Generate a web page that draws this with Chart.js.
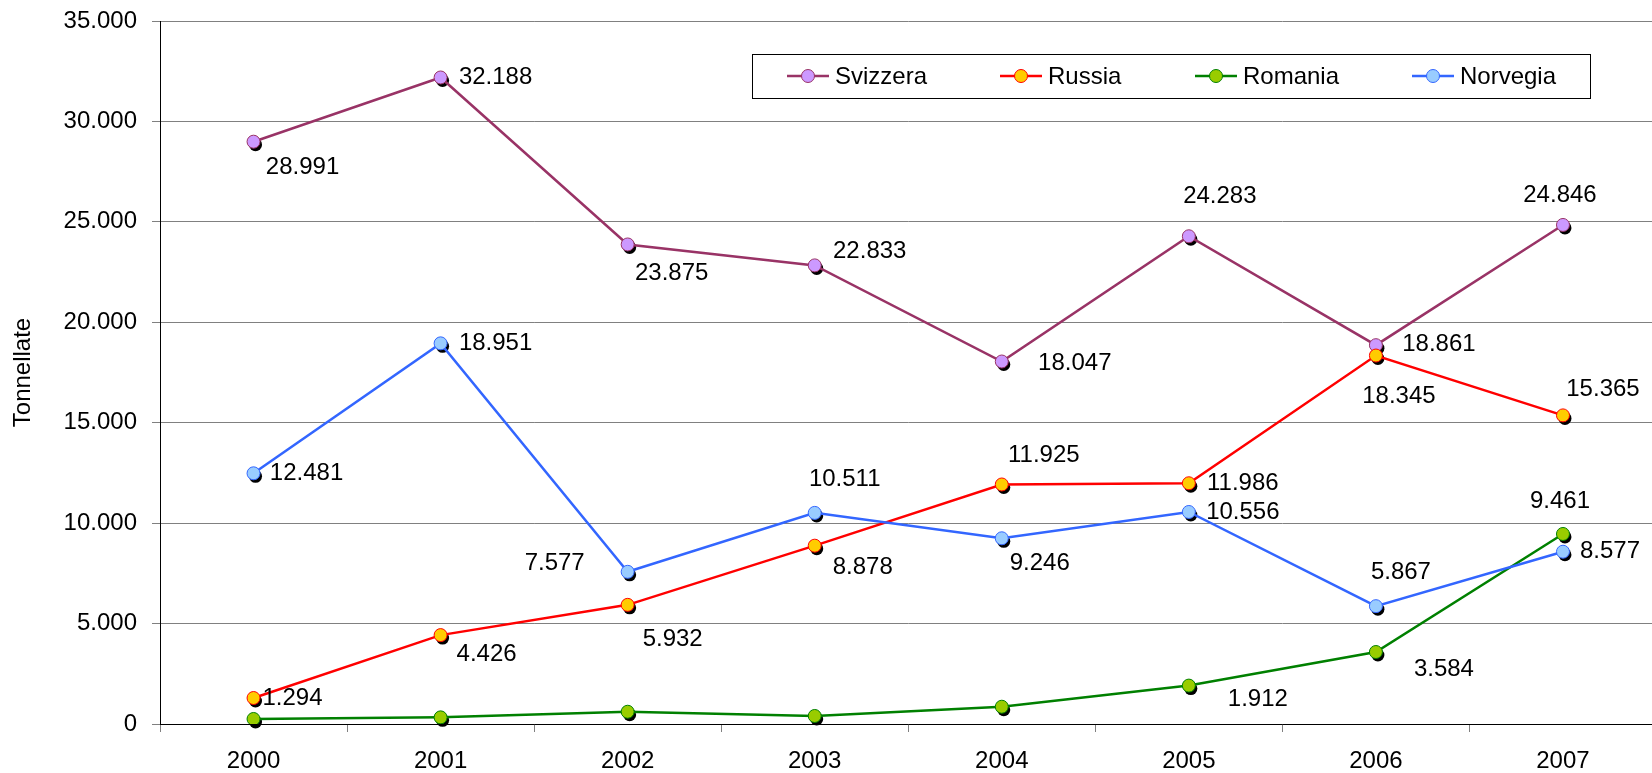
<!DOCTYPE html>
<html>
<head>
<meta charset="utf-8">
<script src="https://cdn.jsdelivr.net/npm/chart.js@4/dist/chart.umd.min.js"></script>
<style>
  html, body { margin: 0; padding: 0; background: #ffffff; overflow: hidden; }
  #wrap { width: 1652px; height: 773px; position: relative; overflow: hidden; }
</style>
</head>
<body>
<div id="wrap"><canvas id="c" width="1664" height="773"></canvas></div>
<script>
// ---- data ----
const years = ['2000', '2001', '2002', '2003', '2004', '2005', '2006', '2007'];
const svizzera = [28991, 32188, 23875, 22833, 18047, 24283, 18861, 24846];
const russia   = [1294, 4426, 5932, 8878, 11925, 11986, 18345, 15365];
const romania  = [250, 330, 610, 400, 860, 1912, 3584, 9461];
const norvegia = [12481, 18951, 7577, 10511, 9246, 10556, 5867, 8577];
const seriesNames = ['Svizzera', 'Russia', 'Romania', 'Norvegia'];
const yTicks = [0, 5000, 10000, 15000, 20000, 25000, 30000, 35000];
const yTitle = 'Tonnellate';

// ---- label placement (offset of label centre from its point, px); null = no label ----
const labelOffsets = [
  [[49,26],[55,0],[44,29],[55,-14],[73,2],[31,-40],[63,-1],[-3,-30]],
  [[39,0],[46,19],[45,35],[48,22],[42,-29],[54,0],[23,41],[40,-26]],
  [null,null,null,null,null,[69,14],[68,17],[-3,-33]],
  [[53,0],[55,0],[-73,-8],[30,-34],[38,25],[54,0],[25,-34],[47,0]]
];
const legendItemX = [787, 1000, 1195, 1412];

// ---- styles ----
const lineColors = ['#993366', '#FF0000', '#008000', '#3366FF'];
const fillColors = ['#CC99FF', '#FFCC00', '#99CC00', '#99CCFF'];
const FONT = '"Liberation Sans", Arial, sans-serif';

function fmt(v) {
  return String(Math.round(v)).replace(/\B(?=(\d{3})+(?!\d))/g, '.');
}

const seriesData = [svizzera, russia, romania, norvegia];

const datasets = seriesData.map((d, i) => ({
  label: seriesNames[i],
  data: d,
  borderColor: lineColors[i],
  backgroundColor: fillColors[i],
  pointBackgroundColor: fillColors[i],
  pointBorderColor: lineColors[i],
  pointBorderWidth: 1,
  pointRadius: 6.5,
  borderWidth: 2.5,
  tension: 0,
  fill: false,
  order: 4 - i
}));

const shadowPlugin = {
  id: 'markerShadow',
  beforeDatasetDraw(chart, args) {
    const ctx = chart.ctx;
    ctx.save();
    ctx.fillStyle = '#000000';
    args.meta.data.forEach(pt => {
      ctx.beginPath();
      ctx.arc(pt.x + 2, pt.y + 3, 6.5, 0, Math.PI * 2);
      ctx.fill();
    });
    ctx.restore();
  }
};

const labelPlugin = {
  id: 'valueLabels',
  afterDatasetsDraw(chart) {
    const ctx = chart.ctx;
    ctx.save();
    ctx.font = '24px ' + FONT;
    ctx.fillStyle = '#000000';
    ctx.textAlign = 'center';
    ctx.textBaseline = 'middle';
    chart.data.datasets.forEach((ds, i) => {
      const meta = chart.getDatasetMeta(i);
      meta.data.forEach((pt, j) => {
        const off = labelOffsets[i][j];
        if (!off) return;
        ctx.fillText(fmt(ds.data[j]), pt.x + off[0], pt.y + off[1]);
      });
    });
    ctx.restore();
  }
};

const legendPlugin = {
  id: 'boxLegend',
  afterDraw(chart) {
    const ctx = chart.ctx;
    ctx.save();
    const bx = 752, by = 54, bw = 838, bh = 44;
    ctx.fillStyle = '#ffffff';
    ctx.fillRect(bx, by, bw, bh);
    ctx.strokeStyle = '#000000';
    ctx.lineWidth = 1;
    ctx.strokeRect(bx + 0.5, by + 0.5, bw, bh);
    const cy = by + bh / 2;
    ctx.font = '24px ' + FONT;
    ctx.textBaseline = 'middle';
    ctx.textAlign = 'left';
    chart.data.datasets.forEach((ds, i) => {
      const x0 = legendItemX[i];
      ctx.strokeStyle = ds.borderColor;
      ctx.lineWidth = 2.5;
      ctx.beginPath();
      ctx.moveTo(x0, cy);
      ctx.lineTo(x0 + 42, cy);
      ctx.stroke();
      ctx.beginPath();
      ctx.arc(x0 + 21, cy, 6.5, 0, Math.PI * 2);
      ctx.fillStyle = ds.pointBackgroundColor;
      ctx.fill();
      ctx.lineWidth = 1;
      ctx.strokeStyle = ds.pointBorderColor;
      ctx.stroke();
      ctx.fillStyle = '#000000';
      ctx.fillText(ds.label, x0 + 48, cy + 1);
    });
    ctx.restore();
  }
};

new Chart(document.getElementById('c'), {
  type: 'line',
  data: { labels: years, datasets: datasets },
  options: {
    responsive: false,
    animation: false,
    devicePixelRatio: 1,
    layout: { padding: { top: 21, right: 0, left: 0, bottom: 0 } },
    plugins: { legend: { display: false }, tooltip: { enabled: false } },
    scales: {
      x: {
        offset: true,
        grid: {
          offset: true,
          drawOnChartArea: false,
          drawTicks: true,
          tickLength: 8,
          color: '#808080'
        },
        border: { display: true, color: '#000000', width: 1 },
        ticks: {
          font: { family: FONT, size: 24 },
          color: '#000000',
          padding: 15,
          maxRotation: 0
        },
        afterFit(scale) {
          scale.height = 49;
          scale.paddingLeft = 0;
          scale.paddingRight = 0;
        }
      },
      y: {
        min: 0,
        max: 35000,
        afterBuildTicks(scale) { scale.ticks = yTicks.map(v => ({ value: v })); },
        grid: {
          color: '#808080',
          lineWidth: 1,
          drawTicks: true,
          tickLength: 8,
          tickColor: '#808080'
        },
        border: { display: true, color: '#000000', width: 1 },
        ticks: {
          font: { family: FONT, size: 24 },
          color: '#000000',
          padding: 15,
          callback: v => fmt(v)
        },
        title: {
          display: true,
          text: yTitle,
          font: { family: FONT, size: 24 },
          color: '#000000',
          padding: { top: 9, bottom: 0 }
        },
        afterFit(scale) {
          scale.width = 160;
          scale.paddingTop = 0;
          scale.paddingBottom = 0;
        }
      }
    }
  },
  plugins: [shadowPlugin, labelPlugin, legendPlugin]
});
</script>
</body>
</html>
